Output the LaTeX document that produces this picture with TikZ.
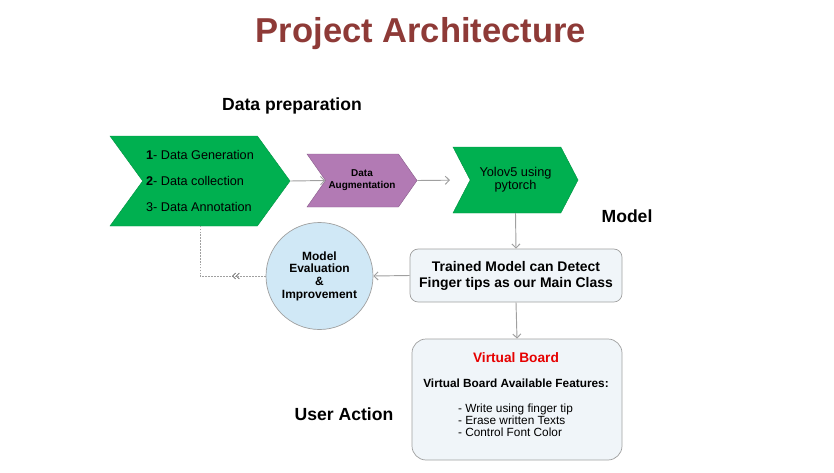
\documentclass[tikz,border=0pt]{standalone}
\usepackage{fontspec}
\setmainfont{Liberation Sans}
\usetikzlibrary{shapes.symbols, arrows.meta, decorations.markings}

\definecolor{titlered}{RGB}{142,58,55}
\definecolor{stepgreen}{RGB}{0,176,80}
\definecolor{augpurple}{RGB}{178,122,180}
\definecolor{evalblue}{RGB}{208,232,246}
\definecolor{boxfill}{RGB}{240,245,249}
\definecolor{linegray}{RGB}{160,160,160}
\definecolor{boardred}{RGB}{230,0,0}

\begin{document}
\begin{tikzpicture}[x=0.03cm, y=-0.03cm, >={Straight Barb[length=3.5pt, width=7pt]}]

    \tikzstyle{chevron}=[signal, signal to=east, signal from=west, inner sep=0pt, text=black];
    \tikzstyle{heading}=[anchor=base, font=\bfseries\fontsize{15}{18}\selectfont];
    \tikzstyle{conn}=[draw=linegray, line width=0.8pt];

    \useasboundingbox (0,0) rectangle (834,473);

    \node[heading, text=titlered, font=\bfseries\fontsize{29.5}{34}\selectfont] (title) at (421, 42) {Project Architecture};
    \node[heading] (prephead) at (292, 110) {Data preparation};
    \node[heading] (modelhead) at (627, 222) {Model};
    \node[heading] (userhead) at (344, 420) {User Action};

    \node[chevron, fill=stepgreen, draw=stepgreen!85!black, line width=0.4pt, minimum width=180*0.03cm, minimum height=90*0.03cm, signal pointer angle=108, align=left, font=\fontsize{10.8}{21.8}\selectfont] (prep) at (200, 181) {\textbf{1}- Data Generation\\\textbf{2}- Data collection\\3- Data Annotation};
    \node[chevron, fill=augpurple, draw=augpurple!80!black, line width=0.4pt, minimum width=110*0.03cm, minimum height=53*0.03cm, signal pointer angle=110, align=center, font=\bfseries\fontsize{8.5}{10.2}\selectfont] (aug) at (362, 180.5) {Data\\Augmentation};
    \node[chevron, fill=stepgreen, draw=stepgreen!85!black, line width=0.4pt, minimum width=125*0.03cm, minimum height=66*0.03cm, signal pointer angle=125, align=center, font=\fontsize{10.9}{11.1}\selectfont] (yolo) at (515.5, 180) {Yolov5 using\\pytorch};

    \node[rectangle, rounded corners=7pt, draw=linegray, fill=boxfill, line width=0.6pt, minimum width=212*0.03cm, minimum height=53*0.03cm, align=center, font=\bfseries\fontsize{11.9}{13.7}\selectfont] (train) at (516, 275.5) {Trained Model can Detect\\Finger tips as our Main Class};
    \node[circle, draw=linegray, fill=evalblue, line width=0.6pt, minimum size=107*0.03cm, inner sep=0pt, align=center, font=\bfseries\fontsize{10.2}{10.8}\selectfont] (eval) at (319.5, 276) {Model\\Evaluation\\\&\\Improvement};

    \node[rectangle, rounded corners=12pt, draw=linegray, fill=boxfill, line width=0.6pt, minimum width=210*0.03cm, minimum height=121*0.03cm] (board) at (517, 399.5) {};
    \node[anchor=base, text=boardred, font=\bfseries\fontsize{11.7}{14}\selectfont] (boardtitle) at (516, 362) {Virtual Board};
    \node[anchor=base, font=\bfseries\fontsize{10.1}{12}\selectfont] (boardfeat) at (516, 387) {Virtual Board Available Features:};
    \node[align=left, inner sep=0pt, font=\fontsize{10.1}{10.4}\selectfont] (boardlist) at (515.5, 420) {- Write using finger tip\\- Erase written Texts\\- Control Font Color};

    \draw (prep.east) edge[conn, ->] (aug.west);
    \draw (aug.east) edge[conn, ->, shorten >=17pt] (yolo.west);
    \draw (yolo.south) edge[conn, ->] (train.north);
    \draw (train.west) edge[conn, ->] (eval.east);
    \draw (train.south) edge[conn, ->] (board.north);

    % feedback from evaluation back to data preparation
    \draw[draw=linegray, line width=0.6pt, dash pattern=on 1.5pt off 1pt,
        postaction={decorate, decoration={markings, mark=at position 0.29 with {\arrow[solid, black!60]{Straight Barb[length=2.5pt, width=5pt] Straight Barb[length=2.5pt, width=5pt]}}}}]
        (eval.west) -| (prep.south);

\end{tikzpicture}
\end{document}
